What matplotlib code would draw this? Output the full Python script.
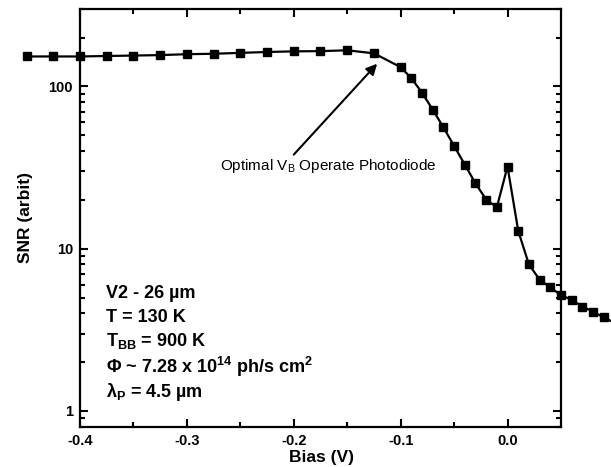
import matplotlib
matplotlib.use("Agg")
import matplotlib.pyplot as plt
from matplotlib.ticker import LogLocator, FixedLocator, FuncFormatter, NullFormatter

plt.rcParams["font.family"] = ["Liberation Sans", "DejaVu Sans"]
plt.rcParams["mathtext.fontset"] = "custom"
plt.rcParams["mathtext.rm"] = "Liberation Sans"
plt.rcParams["mathtext.bf"] = "Liberation Sans:bold"
plt.rcParams["mathtext.it"] = "Liberation Sans:italic"

# SNR vs applied bias
bias = [-0.45, -0.425, -0.4, -0.375, -0.35, -0.325, -0.3, -0.275, -0.25,
        -0.225, -0.2, -0.175, -0.15, -0.125, -0.1, -0.09, -0.08, -0.07,
        -0.06, -0.05, -0.04, -0.03, -0.02, -0.01, 0.0, 0.01, 0.02, 0.03,
        0.04, 0.05, 0.06, 0.07, 0.08, 0.09, 0.10]
snr = [153, 153, 153, 154, 155, 156, 158, 159, 161,
       163, 164.5, 165, 167, 160, 131.5, 112.5, 91.5, 72,
       56, 43, 33, 25.3, 20.1, 18.0, 32.1, 12.9, 8.0, 6.45,
       5.77, 5.18, 4.84, 4.40, 4.10, 3.77, 3.5]

x_ticks = [-0.4, -0.3, -0.2, -0.1, 0.0]
x_tick_labels = ["-0.4", "-0.3", "-0.2", "-0.1", "0.0"]

info_lines = [
    "V2 - 26 \u00b5m",
    "T = 130 K",
    r"T$_{\mathbf{BB}}$ = 900 K",
    "\u03a6 ~ 7.28 x 10$^{\\mathbf{14}}$ ph/s cm$^{\\mathbf{2}}$",
    "\u03bb$_{\\mathbf{P}}$ = 4.5 \u00b5m",
]

fig = plt.figure(figsize=(6.11, 4.67), dpi=100)
ax = fig.add_axes([0.1309, 0.0863, 0.7872, 0.8944])

# last point lies past the figure edge, only its line segment shows
ax.plot(bias, snr, color="black", lw=1.6, marker="s", ms=5.8,
        markevery=list(range(len(bias) - 1)), clip_on=False, zorder=3)

ax.set_yscale("log")
ax.set_xlim(-0.4, 0.05)
ax.set_ylim(0.8, 300)

ax.xaxis.set_major_locator(FixedLocator(x_ticks))
ax.set_xticklabels(x_tick_labels)
ax.xaxis.set_minor_locator(FixedLocator([-0.35, -0.25, -0.15, -0.05]))
ax.yaxis.set_major_locator(LogLocator(base=10))
ax.yaxis.set_minor_locator(LogLocator(base=10, subs=range(2, 10)))
ax.yaxis.set_major_formatter(FuncFormatter(lambda v, p: "%g" % v))
ax.yaxis.set_minor_formatter(NullFormatter())

ax.tick_params(which="both", direction="in", top=True, right=True, width=1.5)
ax.tick_params(which="major", length=6, pad=5)
ax.tick_params(which="minor", length=3.5)
for lab in ax.get_xticklabels() + ax.get_yticklabels():
    lab.set_fontsize(10.5)
    lab.set_fontweight("bold")
for sp in ax.spines.values():
    sp.set_linewidth(1.6)

ax.set_xlabel("Bias (V)", fontsize=12.5, fontweight="bold")
ax.set_ylabel("SNR (arbit)", fontsize=12.5, fontweight="bold")
ax.xaxis.set_label_coords(0.503, -0.056)
ax.yaxis.set_label_coords(-0.098, 0.5)

# arrow pointing at the optimum operating bias
ax.annotate("", xy=(-0.122, 138), xytext=(-0.2, 38),
            arrowprops=dict(arrowstyle="-|>", color="black", lw=1.5,
                            mutation_scale=16, shrinkA=0, shrinkB=0))
ax.text(-0.269, 32.4, r"Optimal V$_{\mathrm{B}}$ Operate Photodiode",
        fontsize=11, va="center", ha="left")

y_pos = [0.320, 0.262, 0.205, 0.143, 0.083]
for s, yp in zip(info_lines, y_pos):
    ax.text(0.054, yp, s, transform=ax.transAxes, fontsize=13,
            fontweight="bold", va="center", ha="left")

fig.savefig("out.png", dpi=100)
